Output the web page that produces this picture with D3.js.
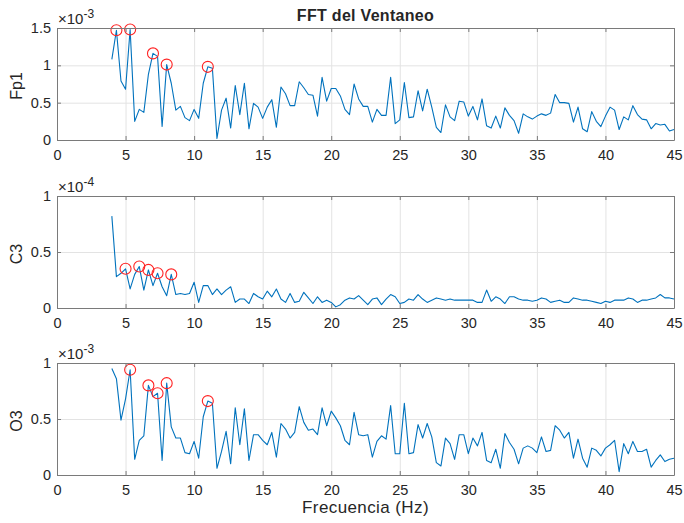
<!DOCTYPE html>
<html>
<head>
<meta charset="utf-8">
<script src="https://cdn.jsdelivr.net/npm/d3@7"></script>
<style>
  body { margin: 0; background: #fff; }
  text { font-family: "Liberation Sans", Arial, sans-serif; fill: #262626; }
</style>
</head>
<body>
<script>
// FFT bins: 4 Hz .. 45 Hz, resolution 1/3 Hz
const freqStart = 4, freqStep = 1 / 3, nBins = 124
const freqs = d3.range(nBins).map(i => freqStart + i * freqStep)

// Fp1 amplitude (x1e-3)
const fp1 = [1.08, 1.47, 0.79, 0.68, 1.48, 0.25, 0.41, 0.37, 0.88, 1.16, 1.12, 0.18,
  1.01, 0.76, 0.40, 0.45, 0.30, 0.26, 0.41, 0.29, 0.76, 0.98, 0.96, 0.02,
  0.40, 0.56, 0.16, 0.73, 0.34, 0.76, 0.15, 0.49, 0.44, 0.29, 0.44, 0.54,
  0.17, 0.71, 0.62, 0.46, 0.46, 0.78, 0.70, 0.61, 0.60, 0.32, 0.84, 0.52,
  0.69, 0.69, 0.59, 0.41, 0.34, 0.75, 0.55, 0.45, 0.45, 0.24, 0.41, 0.33,
  0.33, 0.84, 0.22, 0.27, 0.77, 0.30, 0.31, 0.66, 0.39, 0.68, 0.44, 0.17,
  0.10, 0.47, 0.31, 0.26, 0.52, 0.51, 0.32, 0.45, 0.27, 0.55, 0.19, 0.16,
  0.32, 0.16, 0.43, 0.33, 0.26, 0.09, 0.35, 0.31, 0.28, 0.32, 0.35, 0.33,
  0.36, 0.61, 0.50, 0.50, 0.49, 0.24, 0.44, 0.15, 0.11, 0.38, 0.25, 0.18,
  0.32, 0.44, 0.40, 0.14, 0.31, 0.27, 0.46, 0.34, 0.28, 0.27, 0.15, 0.22,
  0.20, 0.21, 0.12, 0.14]

// C3 amplitude (x1e-4)
const c3 = [0.82, 0.28, 0.31, 0.35, 0.17, 0.30, 0.37, 0.16, 0.34, 0.20, 0.31, 0.19,
  0.11, 0.30, 0.12, 0.13, 0.12, 0.13, 0.23, 0.05, 0.20, 0.20, 0.12, 0.17,
  0.12, 0.16, 0.19, 0.05, 0.08, 0.08, 0.04, 0.13, 0.10, 0.08, 0.15, 0.10,
  0.17, 0.08, 0.05, 0.13, 0.05, 0.06, 0.14, 0.09, 0.04, 0.10, 0.05, 0.07,
  0.05, 0.01, 0.03, 0.07, 0.09, 0.08, 0.11, 0.07, 0.03, 0.08, 0.09, 0.03,
  0.08, 0.12, 0.10, 0.04, 0.05, 0.08, 0.07, 0.12, 0.08, 0.05, 0.07, 0.09,
  0.08, 0.07, 0.08, 0.07, 0.07, 0.07, 0.07, 0.07, 0.05, 0.05, 0.16, 0.06,
  0.10, 0.08, 0.04, 0.10, 0.10, 0.08, 0.07, 0.07, 0.06, 0.07, 0.09, 0.08,
  0.05, 0.06, 0.07, 0.05, 0.05, 0.09, 0.08, 0.07, 0.07, 0.06, 0.05, 0.04,
  0.06, 0.05, 0.07, 0.07, 0.07, 0.09, 0.08, 0.05, 0.07, 0.07, 0.08, 0.09,
  0.12, 0.09, 0.09, 0.08]

// O3 amplitude (x1e-3)
const o3 = [0.95, 0.86, 0.49, 0.68, 0.94, 0.14, 0.31, 0.35, 0.80, 0.70, 0.73, 0.13,
  0.82, 0.43, 0.33, 0.33, 0.20, 0.19, 0.30, 0.15, 0.52, 0.66, 0.64, 0.06,
  0.21, 0.39, 0.10, 0.60, 0.27, 0.59, 0.13, 0.36, 0.36, 0.31, 0.27, 0.38,
  0.16, 0.46, 0.41, 0.33, 0.38, 0.61, 0.47, 0.40, 0.41, 0.36, 0.60, 0.44,
  0.57, 0.51, 0.44, 0.31, 0.27, 0.56, 0.36, 0.35, 0.36, 0.16, 0.30, 0.35,
  0.32, 0.62, 0.19, 0.19, 0.64, 0.19, 0.20, 0.45, 0.33, 0.46, 0.34, 0.11,
  0.08, 0.33, 0.28, 0.14, 0.36, 0.36, 0.19, 0.33, 0.26, 0.38, 0.13, 0.11,
  0.23, 0.06, 0.37, 0.29, 0.23, 0.10, 0.24, 0.26, 0.24, 0.20, 0.34, 0.21,
  0.22, 0.44, 0.40, 0.33, 0.38, 0.15, 0.32, 0.15, 0.07, 0.24, 0.22, 0.17,
  0.24, 0.27, 0.31, 0.03, 0.28, 0.19, 0.30, 0.21, 0.21, 0.23, 0.07, 0.13,
  0.18, 0.12, 0.14, 0.15]

// indices of the marked peaks (bin number from 4 Hz)
const fp1Peaks = [1, 4, 9, 12, 21]
const c3Peaks = [3, 6, 8, 10, 13]
const o3Peaks = [4, 8, 10, 12, 21]

const xTicks = [0, 5, 10, 15, 20, 25, 30, 35, 40, 45]

const panels = [
  { name: 'Fp1', values: fp1, peaks: fp1Peaks, yMax: 1.5, yTicks: [0, 0.5, 1, 1.5], exp: '-3' },
  { name: 'C3', values: c3, peaks: c3Peaks, yMax: 1, yTicks: [0, 0.5, 1], exp: '-4' },
  { name: 'O3', values: o3, peaks: o3Peaks, yMax: 1, yTicks: [0, 0.5, 1], exp: '-3' },
]

const width = 684, height = 523
const left = 57, right = 674
const tops = [28, 196, 363], ph = 112
const lineColor = '#0072bd'
const boxColor = '#7a7a7a'
const tickFont = 14.5

const svg = d3.select('body').append('svg')
  .attr('width', width).attr('height', height)

const x = d3.scaleLinear().domain([0, 45]).range([left, right])

panels.forEach((p, k) => {
  const top = tops[k], bottom = top + ph
  const y = d3.scaleLinear().domain([0, p.yMax]).range([bottom, top])
  const g = svg.append('g')

  // grid
  g.append('g').attr('transform', `translate(0,${bottom})`)
    .call(d3.axisBottom(x).tickValues(xTicks).tickSize(-ph).tickFormat(''))
    .call(s => s.select('.domain').remove())
    .call(s => s.selectAll('line').attr('stroke', '#e3e3e3'))
  g.append('g').attr('transform', `translate(${left},0)`)
    .call(d3.axisLeft(y).tickValues(p.yTicks).tickSize(-(right - left)).tickFormat(''))
    .call(s => s.select('.domain').remove())
    .call(s => s.selectAll('line').attr('stroke', '#e3e3e3'))

  // data line
  const line = d3.line().x((d, i) => x(freqs[i])).y(d => y(d))
  g.append('path').datum(p.values)
    .attr('fill', 'none').attr('stroke', lineColor).attr('stroke-width', 1.1)
    .attr('stroke-linejoin', 'round')
    .attr('d', line)

  // peak markers
  g.selectAll('circle.peak').data(p.peaks).enter().append('circle')
    .attr('class', 'peak')
    .attr('cx', i => x(freqs[i])).attr('cy', i => y(p.values[i]))
    .attr('r', 5.5)
    .attr('fill', 'none').attr('stroke', '#f22').attr('stroke-width', 1.1)

  // axes (ticks inside, box on)
  const styleAxis = s => {
    s.select('.domain').attr('stroke', boxColor)
    s.selectAll('.tick line').attr('stroke', boxColor)
    s.selectAll('.tick text').attr('font-size', tickFont).attr('fill', '#262626')
      .style('font-family', '"Liberation Sans", Arial, sans-serif')
  }
  g.append('g').attr('transform', `translate(0,${bottom})`)
    .call(d3.axisBottom(x).tickValues(xTicks).tickSizeInner(-4).tickSizeOuter(0).tickPadding(10))
    .call(styleAxis)
  g.append('g').attr('transform', `translate(0,${top})`)
    .call(d3.axisTop(x).tickValues(xTicks).tickSizeInner(-4).tickSizeOuter(0).tickFormat(''))
    .call(styleAxis)
  g.append('g').attr('transform', `translate(${left},0)`)
    .call(d3.axisLeft(y).tickValues(p.yTicks).tickSizeInner(-4).tickSizeOuter(0).tickPadding(6)
      .tickFormat(d => d))
    .call(styleAxis)
  g.append('g').attr('transform', `translate(${right},0)`)
    .call(d3.axisRight(y).tickValues(p.yTicks).tickSizeInner(-4).tickSizeOuter(0).tickFormat(''))
    .call(styleAxis)

  // y label
  g.append('text')
    .attr('transform', `translate(22,${(top + bottom) / 2 + 2}) rotate(-90)`)
    .attr('text-anchor', 'middle')
    .attr('font-size', 16)
    .text(p.name)

  // exponent
  const ex = g.append('text').attr('x', left + 1).attr('y', top - 4).attr('font-size', 15)
  ex.append('tspan').text('\u00d710')
  ex.append('tspan').attr('dy', -6).attr('font-size', 12).text(p.exp)
})

svg.append('text')
  .attr('x', (left + right) / 2).attr('y', 21)
  .attr('text-anchor', 'middle').attr('font-size', 16).attr('font-weight', 'bold')
  .attr('letter-spacing', 0.3)
  .attr('fill', '#000')
  .text('FFT del Ventaneo')

svg.append('text')
  .attr('x', (left + right) / 2).attr('y', 513)
  .attr('text-anchor', 'middle').attr('font-size', 17).attr('letter-spacing', 0.4)
  .text('Frecuencia (Hz)')
</script>
</body>
</html>
